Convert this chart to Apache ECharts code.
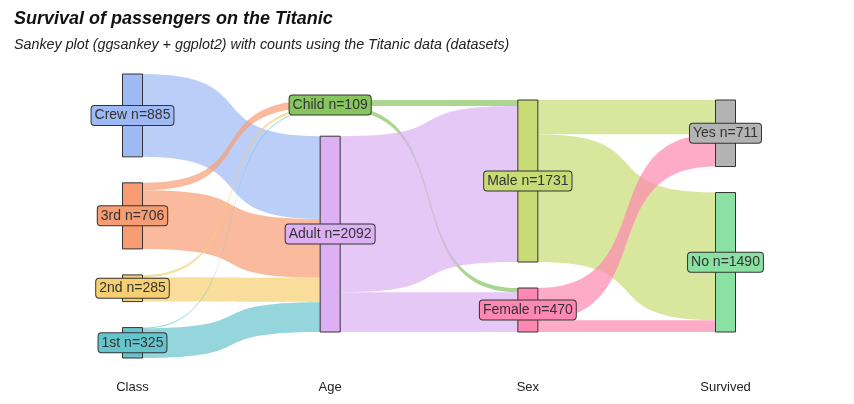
<!DOCTYPE html>
<html><head><meta charset="utf-8">
<script src="https://cdn.jsdelivr.net/npm/echarts@6/dist/echarts.min.js"></script>
<style>html,body{margin:0;padding:0;background:#fff}#c{width:854px;height:404px}</style>
</head><body><div id="c"></div>
<script>
// ---- data ----
const stageLabels = ['Class', 'Age', 'Sex', 'Survived'];
const classNodes = ['Crew', '3rd', '2nd', '1st'];
const ageNodes = ['Child', 'Adult'];
const sexNodes = ['Male', 'Female'];
const survivedNodes = ['Yes', 'No'];
// [source, target, count]
const classToAge = [
  ['Crew', 'Adult', 885],
  ['3rd', 'Child', 79], ['3rd', 'Adult', 627],
  ['2nd', 'Child', 24], ['2nd', 'Adult', 261],
  ['1st', 'Child', 6], ['1st', 'Adult', 319]
];
const ageToSex = [
  ['Child', 'Male', 64], ['Child', 'Female', 45],
  ['Adult', 'Male', 1667], ['Adult', 'Female', 425]
];
const sexToSurvived = [
  ['Male', 'Yes', 367], ['Male', 'No', 1364],
  ['Female', 'Yes', 344], ['Female', 'No', 126]
];

// ---- styles ----
const nodeColors = {
  'Crew': '#9EB9F3', '3rd': '#F89C74', '2nd': '#F6CF71', '1st': '#66C5CC',
  'Child': '#87C55F', 'Adult': '#DCB0F2',
  'Male': '#C9DB74', 'Female': '#FE88B1',
  'Yes': '#B3B3B3', 'No': '#8BE0A4'
};
const LAYOUT = { left: 122.5, right: 118.5, top: 74, height: 284 };
const NODE_GAP = 26;

// ---- build ----
const columns = [classNodes, ageNodes, sexNodes, survivedNodes];
const allLinks = classToAge.concat(ageToSex, sexToSurvived);
const totals = {};
columns.flat().forEach(n => {
  let inV = 0, outV = 0;
  allLinks.forEach(l => { if (l[0] === n) outV += l[2]; if (l[1] === n) inV += l[2]; });
  totals[n] = Math.max(inV, outV);
});
// mimic ggsankey: every column centred vertically
const H = LAYOUT.height;
const ky = Math.min.apply(null, columns.map(col =>
  (H - (col.length - 1) * NODE_GAP) / col.reduce((s, n) => s + totals[n], 0)));
const nodes = [];
columns.forEach(col => {
  const colH = col.reduce((s, n) => s + totals[n] * ky, 0) + (col.length - 1) * NODE_GAP;
  let y = (H - colH) / 2;
  col.forEach(n => {
    nodes.push({
      name: n,
      localY: y / H,
      itemStyle: { color: nodeColors[n] },
      label: { backgroundColor: nodeColors[n] }
    });
    y += totals[n] * ky + NODE_GAP;
  });
});
const links = allLinks.map(l => ({ source: l[0], target: l[1], value: l[2] }));

const chart = echarts.init(document.getElementById('c'), null, { renderer: 'canvas' });
const FONT = '"Liberation Sans", Arial, sans-serif';
chart.setOption({
  animation: false,
  backgroundColor: '#ffffff',
  title: {
    text: 'Survival of passengers on the Titanic',
    subtext: 'Sankey plot (ggsankey + ggplot2) with counts using the Titanic data (datasets)',
    left: 14, top: 10, padding: 0, itemGap: 10,
    textStyle: { fontFamily: FONT, fontSize: 18, fontWeight: 'bold', fontStyle: 'italic', color: '#111' },
    subtextStyle: { fontFamily: FONT, fontSize: 14.3, fontStyle: 'italic', color: '#222' }
  },
  grid: { left: 33.6, right: 29.6, top: 60, bottom: 26 },
  xAxis: {
    type: 'category', data: stageLabels, boundaryGap: true,
    axisLine: { show: false }, axisTick: { show: false }, splitLine: { show: false },
    axisLabel: { margin: 3, fontFamily: FONT, fontSize: 13, color: '#222' }
  },
  yAxis: { type: 'value', show: false },
  series: [{
    type: 'sankey',
    left: LAYOUT.left, right: LAYOUT.right, top: LAYOUT.top, height: H,
    nodeWidth: 20, nodeGap: NODE_GAP, layoutIterations: 0, draggable: false,
    emphasis: { disabled: true },
    itemStyle: { borderColor: '#333', borderWidth: 1 },
    lineStyle: { color: 'source', opacity: 0.7, curveness: 0.7 },
    label: {
      position: 'inside', fontFamily: FONT, fontSize: 14, color: '#333',
      borderColor: '#333', borderWidth: 1, borderRadius: 3, padding: [3, 3, 2, 3],
      formatter: p => p.name + ' n=' + totals[p.name]
    },
    data: nodes,
    links: links
  }]
});
</script></body></html>
